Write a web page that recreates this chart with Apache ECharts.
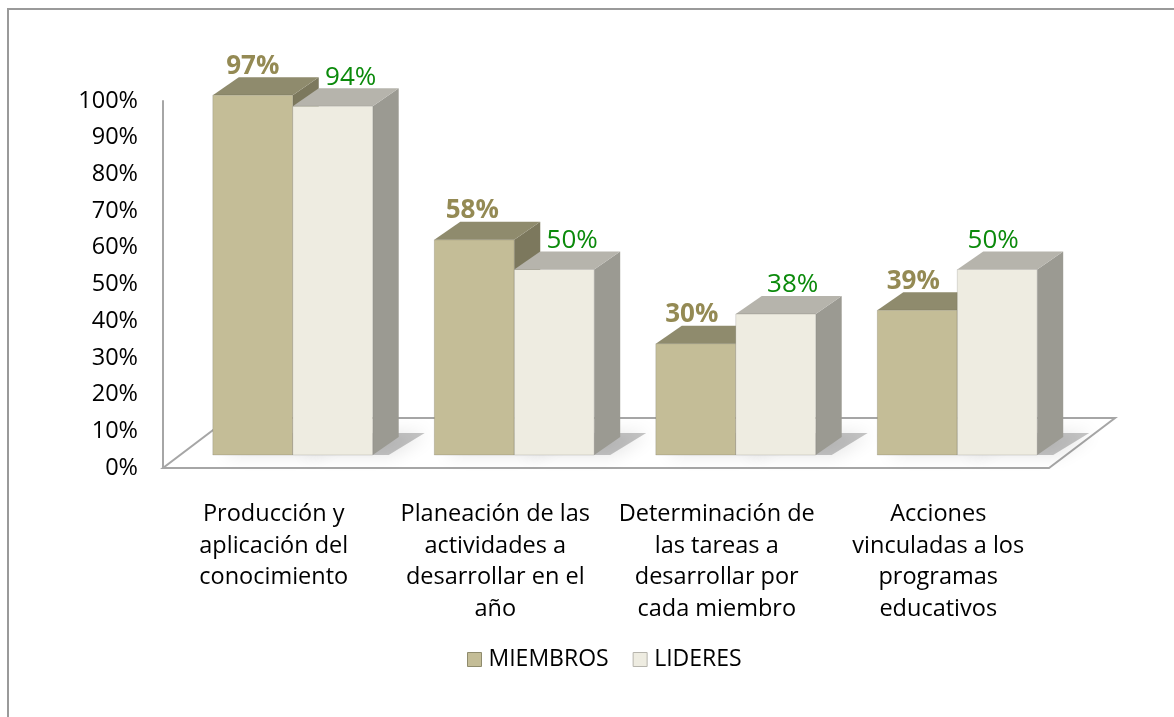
<!DOCTYPE html>
<html><head><meta charset="utf-8">
<script src="https://cdn.jsdelivr.net/npm/echarts@6/dist/echarts.min.js"></script>
<style>html,body{margin:0;padding:0;background:#fff}#c{width:1174px;height:717px}</style>
</head><body><div id="c"></div>
<script>
// ---- data ----
const categories = [
  'Producción y\naplicación del\nconocimiento',
  'Planeación de las\nactividades a\ndesarrollar en el\naño',
  'Determinación de\nlas tareas a\ndesarrollar por\ncada miembro',
  'Acciones\nvinculadas a los\nprogramas\neducativos'
];
const seriesNames = ['MIEMBROS', 'LIDERES'];
const miembros = [97, 58, 30, 39];
const lideres = [94, 50, 38, 50];
const yTickLabels = ['0%','10%','20%','30%','40%','50%','60%','70%','80%','90%','100%'];

// ---- styles ----
const FONT = "'Open Sans', 'Liberation Sans', sans-serif";
const BAR_RATIO = 0.361;
const DX = 26, DY = -18;          // bar depth
const FLOOR_DX = 66, FLOOR_DY = -50;
const STY = [
  {front:'#C4BD97', top:'#8F8B6D', side:'#7C785D', label:'#948A54', bold:'bold', size:26, labelDx:[0,-2,-4,-4]},
  {front:'#EEECE1', top:'#B6B4AC', side:'#9B9A92', label:'#0B8A0B', bold:'normal', size:26, labelDx:[18,18,17,-4]}
];

function barRenderer(si) {
  return function (params, api) {
    const i = api.value(0), v = api.value(1);
    const top = api.coord([i, v]);
    const base = api.coord([i, 0]);
    const band = api.size([1, 0])[0];
    const w = band * BAR_RATIO;
    const x1 = si === 0 ? top[0] - w : top[0];
    const x2 = x1 + w;
    const yT = top[1], yB = base[1];
    const s = STY[si];
    return {
      type: 'group',
      children: [
        { type: 'polygon', shape: { points: [[x1 + 6, yB], [x2 + 16, yB], [x2 + DX + 26, yB + DY - 4], [x1 + DX, yB + DY - 4]] },
          style: { fill: 'rgba(0,0,0,0.22)', shadowBlur: 18, shadowColor: 'rgba(0,0,0,0.5)', shadowOffsetX: 4 } },
        { type: 'polygon', shape: { points: [[x2, yT], [x2 + DX, yT + DY], [x2 + DX, yB + DY], [x2, yB]] },
          style: { fill: s.side } },
        { type: 'polygon', shape: { points: [[x1, yT], [x1 + DX, yT + DY], [x2 + DX, yT + DY], [x2, yT]] },
          style: { fill: s.top } },
        { type: 'rect', shape: { x: x1, y: yT, width: w, height: yB - yT },
          style: { fill: s.front, stroke: 'rgba(0,0,0,0.12)', lineWidth: 1 } },
        { type: 'text', x: x1 + w / 2 + s.labelDx[i], y: yT - 29,
          style: { text: v + '%', fill: s.label, font: s.bold + ' ' + s.size + 'px ' + FONT, align: 'center', verticalAlign: 'middle' } }
      ]
    };
  };
}

function floorRenderer(params, api) {
  const c0 = api.coord([0, 0]);
  const c3 = api.coord([categories.length - 1, 0]);
  const band = api.size([1, 0])[0];
  const L = c0[0] - band / 2, R = c3[0] + band / 2, y = c0[1];
  return {
    type: 'polygon',
    shape: { points: [[L, y], [R, y], [R + FLOOR_DX, y + FLOOR_DY], [L + FLOOR_DX, y + FLOOR_DY]] },
    style: { fill: '#fff', stroke: '#A6A6A6', lineWidth: 2 }
  };
}

const chart = echarts.init(document.getElementById('c'), null, { renderer: 'canvas' });
chart.setOption({
  backgroundColor: '#fff',
  animation: false,
  textStyle: { fontFamily: FONT },
  graphic: [
    { type: 'polyline', shape: { points: [[8, 717], [8, 9], [1174, 9]] }, style: { stroke: '#9A9A9A', lineWidth: 2, fill: null } }
  ],
  legend: {
    top: 643, left: 462, itemWidth: 14, itemHeight: 14, itemGap: 24,
    icon: 'rect',
    textStyle: { fontSize: 23, color: '#000', fontFamily: FONT, padding: [0, 0, 0, 2] },
    data: [
      { name: seriesNames[0], itemStyle: { color: '#C4BD97', borderColor: '#8F8B6D', borderWidth: 1 } },
      { name: seriesNames[1], itemStyle: { color: '#EEECE1', borderColor: '#B6B4AC', borderWidth: 1 } }
    ]
  },
  grid: [
    { left: 163, top: 101, width: 886, height: 367 },
    { left: 182, top: 84, width: 886, height: 371 }
  ],
  xAxis: [
    { type: 'category', gridIndex: 0, data: categories, axisLine: { show: false }, axisTick: { show: false },
      axisLabel: { interval: 0, fontSize: 23.5, lineHeight: 31.5, margin: 31, color: '#000', fontFamily: FONT } },
    { type: 'category', gridIndex: 1, data: categories, show: false }
  ],
  yAxis: [
    { type: 'value', gridIndex: 0, min: 0, max: 100, interval: 10, splitLine: { show: false },
      axisTick: { show: false }, axisLine: { show: true, lineStyle: { color: '#A6A6A6', width: 2 } },
      axisLabel: { margin: 25, fontSize: 23.5, color: '#000', fontFamily: FONT,
        formatter: v => yTickLabels[Math.round(v / 10)] } },
    { type: 'value', gridIndex: 1, min: 0, max: 100, show: false }
  ],
  series: [
    { type: 'custom', name: 'floor', xAxisIndex: 0, yAxisIndex: 0, z: 1, silent: true,
      renderItem: floorRenderer, data: [[0, 0]], clip: false },
    { type: 'custom', name: seriesNames[0], xAxisIndex: 1, yAxisIndex: 1, z: 3, clip: false,
      itemStyle: { color: '#C4BD97' }, renderItem: barRenderer(0),
      data: miembros.map((v, i) => [i, v]) },
    { type: 'custom', name: seriesNames[1], xAxisIndex: 1, yAxisIndex: 1, z: 3, clip: false,
      itemStyle: { color: '#EEECE1' }, renderItem: barRenderer(1),
      data: lideres.map((v, i) => [i, v]) }
  ]
});
</script>
</body></html>
